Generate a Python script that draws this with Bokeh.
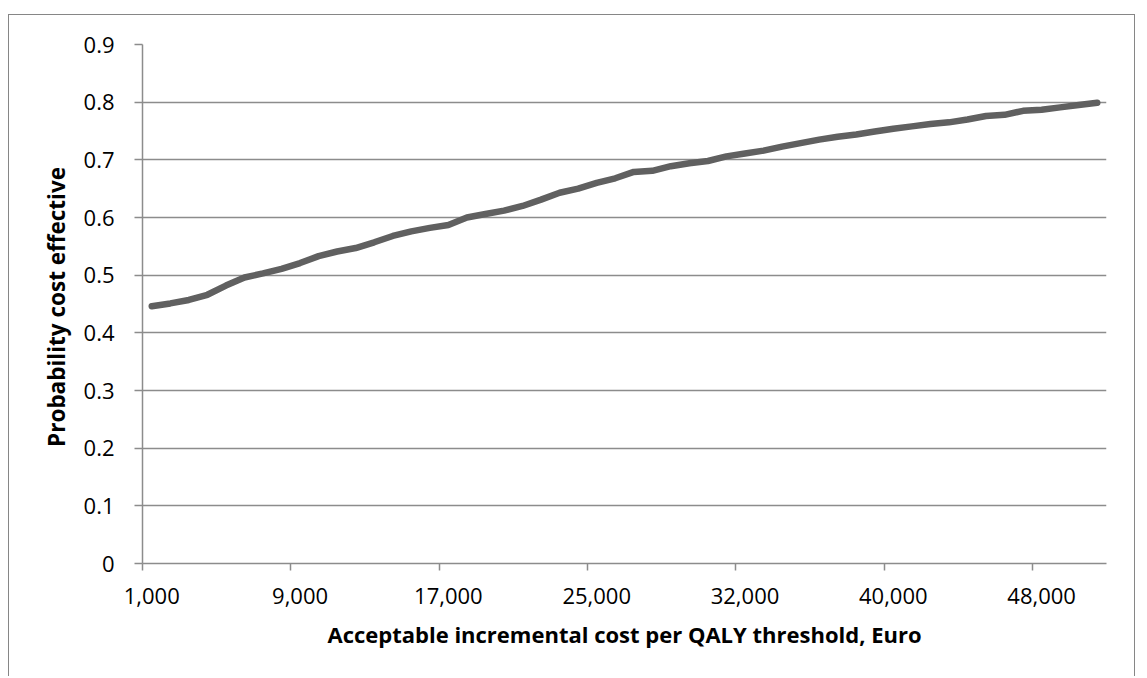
from bokeh.plotting import figure
from bokeh.models import FixedTicker, CustomJSTickFormatter, Range1d
from bokeh.embed import file_html
from bokeh.resources import INLINE

# Acceptable incremental cost per QALY threshold (Euro) - categories
thresholds = [1000, 2000, 3000, 4000, 5000, 6000, 7000, 8000,
              9000, 10000, 11000, 12000, 13000, 14000, 15000, 16000,
              17000, 18000, 19000, 20000, 21000, 22000, 23000, 24000,
              25000, 26000, 27000, 27500, 28000, 29000, 30000, 31000,
              32000, 33000, 34000, 35000, 36000, 37000, 38000, 39000,
              40000, 41000, 42000, 43000, 44000, 45000, 46000, 47000,
              48000, 49000, 50000, 51000]

# Probability cost effective
prob = [0.446, 0.451, 0.457, 0.466, 0.482, 0.496, 0.503, 0.511,
        0.521, 0.533, 0.541, 0.547, 0.557, 0.568, 0.576, 0.582,
        0.587, 0.600, 0.606, 0.612, 0.620, 0.631, 0.643, 0.650,
        0.660, 0.668, 0.679, 0.681, 0.689, 0.694, 0.698, 0.706,
        0.711, 0.716, 0.723, 0.729, 0.735, 0.740, 0.744, 0.749,
        0.754, 0.758, 0.762, 0.765, 0.770, 0.776, 0.778, 0.785,
        0.787, 0.791, 0.795, 0.799]

y_ticks = [0, 0.1, 0.2, 0.3, 0.4, 0.5, 0.6, 0.7, 0.8, 0.9]
label_every = 8

idx = list(range(len(thresholds)))
label_idx = idx[::label_every]
overrides = {i: f"{thresholds[i]:,}" for i in label_idx}
boundaries = [i - 0.5 for i in label_idx]

GRID = "#8c8c8c"
FONT = "Open Sans"

p = figure(width=1127, height=662,
           x_range=Range1d(-0.5, len(thresholds) - 0.5),
           y_range=Range1d(0, 0.9),
           output_backend="svg", toolbar_location=None,
           min_border_left=133, min_border_right=30,
           min_border_top=29, min_border_bottom=114)

p.outline_line_color = None
p.background_fill_color = "white"
p.border_fill_color = "white"
p.styles = {"border-top": "1px solid #868686",
            "border-left": "1px solid #868686",
            "border-right": "1px solid #868686",
            "margin-top": "14px",
            "margin-left": "8px"}

p.line(idx, prob, line_color="#606060", line_width=6.5,
       line_cap="round", line_join="round")

# x axis
xa = p.xaxis[0]
xa.ticker = FixedTicker(ticks=label_idx, minor_ticks=boundaries)
xa.major_label_overrides = overrides
xa.major_tick_out = 0
xa.major_tick_in = 0
xa.major_tick_line_color = None
xa.minor_tick_out = 7
xa.minor_tick_in = 0
xa.minor_tick_line_color = GRID
xa.minor_tick_line_width = 1.5
xa.axis_line_color = GRID
xa.axis_line_width = 1.5
xa.major_label_standoff = 17
xa.major_label_text_font = FONT
xa.major_label_text_font_size = "22px"
xa.major_label_text_color = "black"
xa.axis_label = "Acceptable incremental cost per QALY threshold, Euro"
xa.axis_label_text_font = FONT
xa.axis_label_text_font_size = "22px"
xa.axis_label_text_font_style = "bold"
xa.axis_label_text_color = "black"
xa.axis_label_standoff = 12

# y axis
ya = p.yaxis[0]
ya.ticker = FixedTicker(ticks=y_ticks)
ya.formatter = CustomJSTickFormatter(code="return tick.toFixed(1).replace(/\\.0$/, '');")
ya.major_tick_out = 8
ya.major_tick_in = 0
ya.major_tick_line_color = GRID
ya.major_tick_line_width = 1.5
ya.minor_tick_line_color = None
ya.axis_line_color = GRID
ya.axis_line_width = 1.5
ya.major_label_standoff = 20
ya.major_label_text_font = FONT
ya.major_label_text_font_size = "22px"
ya.major_label_text_color = "black"
ya.axis_label = "Probability  cost effective"
ya.axis_label_text_font = FONT
ya.axis_label_text_font_size = "22.5px"
ya.axis_label_text_font_style = "bold"
ya.axis_label_text_color = "black"
ya.axis_label_standoff = 9

p.xgrid.grid_line_color = None
p.ygrid.ticker = FixedTicker(ticks=y_ticks)
p.ygrid.grid_line_color = GRID
p.ygrid.grid_line_width = 1.5

open("out.html", "w").write(file_html(p, INLINE))
